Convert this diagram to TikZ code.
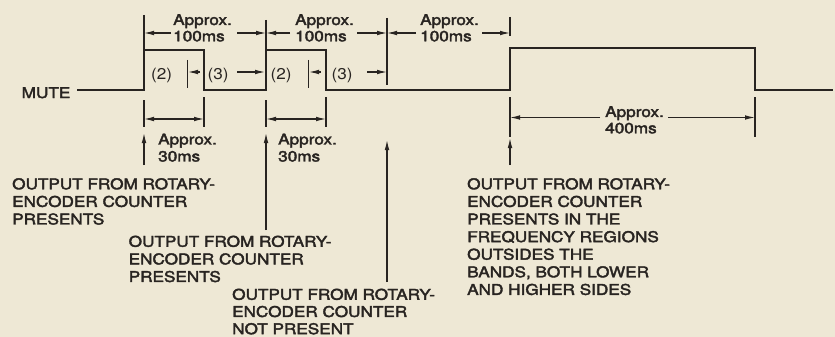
\documentclass[tikz,border=0pt]{standalone}
\usepackage{fontspec}
\setmainfont{TeX Gyre Heros}[FakeStretch=1.16,FakeBold=2.6]
\newfontfamily\parenfont{TeX Gyre Heros}[FakeStretch=1.1]
\usetikzlibrary{arrows.meta}
\definecolor{paper}{RGB}{238,232,213}
\definecolor{ink}{RGB}{40,36,33}
\begin{document}
\begin{tikzpicture}[x=1pt,y=-1pt,
  wave/.style={draw=ink, line width=2.6pt, line join=miter},
  dim/.style={draw=ink, line width=1.1pt},
  tip/.style={-{Latex[length=10pt,width=4.6pt]}},
  both/.style={{Latex[length=10pt,width=4.6pt]}-{Latex[length=10pt,width=4.6pt]}},
  lbl/.style={inner sep=0pt, anchor=north west, align=left, text=ink,
    font=\fontsize{14.8}{17.6}\selectfont},
  small/.style={lbl, font=\fontsize{14.8}{16.3}\selectfont},
  paren/.style={inner sep=0pt, anchor=base west, text=ink,
    font=\fontsize{14.8}{16}\selectfont},
  pnum/.style={paren, font=\parenfont\fontsize{15.6}{16}\selectfont}
]
\fill[paper] (0,0) rectangle (835,337);
\useasboundingbox (0,0) rectangle (835,337);

% waveform
\node[paren] (mute) at (21.5,98) {MUTE};
\coordinate (w0) at (77,90);
\coordinate (r1) at (144,50);
\coordinate (f1) at (204,50);
\coordinate (r2) at (266,50);
\coordinate (f2) at (326,50);
\coordinate (r3) at (510,48);
\coordinate (f3) at (755,48);
\coordinate (wend) at (833,90);
\draw[wave] (w0) -| (r1) -- (f1) |- (r2 |- w0) -- (r2) -- (f2) |- (r3 |- w0) -- (r3) -- (f3) |- (wend);

% 100 ms ticks
\coordinate (t1) at (144,15);
\coordinate (t2) at (266,20);
\coordinate (t3) at (387,18);
\coordinate (t4) at (510,17);
\draw[dim] (t1) -- (r1);
\draw[dim] (t2) -- (r2);
\draw[dim] (t3) -- (387,85);
\draw[dim] (t4) -- (510,36);

% 100 ms arrows
\node[small] (a1) at (173,14) {Approx.\\100ms};
\node[small] (a2) at (295,14) {Approx.\\100ms};
\node[small] (a3) at (420,14) {Approx.\\100ms};
\draw[dim,tip] (171,33) -- (t1 |- 0,33);
\draw[dim,tip] (237,33) -- (t2 |- 0,33);
\draw[dim,tip] (290,33) -- (t2 |- 0,33);
\draw[dim,tip] (357,33) -- (t3 |- 0,33);
\draw[dim,tip] (416,33) -- (t3 |- 0,33);
\draw[dim,tip] (482,33) -- (t4 |- 0,33);

% (2) and (3)
\node[pnum] (p2a) at (151,79.5) {(2)};
\node[pnum] (p3a) at (207.5,79.5) {(3)};
\node[pnum] (p2b) at (270.5,79.5) {(2)};
\node[pnum] (p3b) at (331.5,79.5) {(3)};
\coordinate (m1) at (187.5,60);
\coordinate (m2) at (308.5,60);
\draw[dim] (m1) -- (187.5,88);
\draw[dim] (m2) -- (308.5,88);
\draw[dim,tip] (200,72) -- (188,72);
\draw[dim,tip] (237,72) -- (265,72);
\draw[dim,tip] (321,72) -- (309,72);
\draw[dim,tip] (367,72) -- (387,72);

% 30 ms dimensions
\draw[dim] (144,100) -- (144,127);
\draw[dim] (204,97) -- (204,127);
\draw[dim,both] (144,119) -- (204,119);
\draw[dim] (266,100) -- (266,127);
\draw[dim] (326,97) -- (326,127);
\draw[dim,both] (266,119) -- (326,119);
\node[lbl, font=\fontsize{14.8}{17}\selectfont] (b1) at (158,133.5) {Approx.\\30ms};
\node[lbl, font=\fontsize{14.8}{17}\selectfont] (b2) at (278,133.5) {Approx.\\30ms};

% 400 ms dimension
\draw[dim] (510,97) -- (510,137);
\draw[dim] (755,97) -- (755,137);
\node[small] (c1) at (605,106) {Approx.\\400ms};
\draw[dim,tip] (600,117.5) -- (510,117.5);
\draw[dim,tip] (668,117.5) -- (755,117.5);

% notes
\node[lbl] (n1) at (12,178) {OUTPUT FROM ROTARY-\\ENCODER COUNTER\\PRESENTS};
\node[lbl] (n2) at (128.5,235.5) {OUTPUT FROM ROTARY-\\ENCODER COUNTER\\PRESENTS};
\node[lbl, font=\fontsize{14.8}{17.2}\selectfont] (n3) at (232,288.5) {OUTPUT FROM ROTARY-\\ENCODER COUNTER\\NOT PRESENT};
\node[lbl] (n4) at (467,178) {OUTPUT FROM ROTARY-\\ENCODER COUNTER\\PRESENTS IN THE\\FREQUENCY REGIONS\\OUTSIDES THE\\BANDS, BOTH LOWER\\AND HIGHER SIDES};

% pointer arrows
\coordinate (u1) at (144,165);
\coordinate (u2) at (266,230);
\coordinate (u3) at (387,282);
\coordinate (u4) at (510,165);
\draw[dim,tip] (u1) -- (144,133);
\draw[dim,tip] (u2) -- (266,133);
\draw[dim,tip] (u3) -- (387,140);
\draw[dim,tip] (u4) -- (510,138);
\end{tikzpicture}
\end{document}
